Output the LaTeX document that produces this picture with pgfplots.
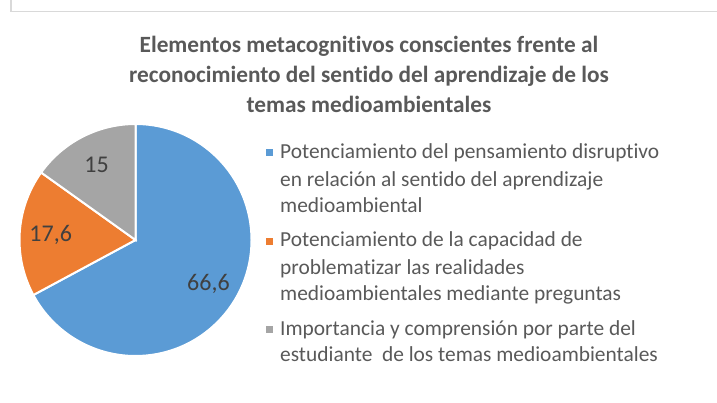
\documentclass[border=0pt]{standalone}
\usepackage{pgfplots}
\pgfplotsset{compat=1.18}
\usepackage{pgfplotstable}
\usepackage{fontspec}
\setmainfont{Carlito}[Ligatures=NoCommon]
\definecolor{sblue}{HTML}{5B9BD5}
\definecolor{sorange}{HTML}{ED7D31}
\definecolor{sgray}{HTML}{A5A5A5}
\definecolor{txt}{HTML}{595959}
\definecolor{lbl}{HTML}{404040}
\definecolor{framec}{HTML}{D9D9D9}
\pgfplotstableread{
value
66.6
17.6
15
}\piedata
\begin{document}
\begin{tikzpicture}
\pgfplotstablegetelem{0}{value}\of\piedata \let\va\pgfplotsretval
\pgfplotstablegetelem{1}{value}\of\piedata \let\vb\pgfplotsretval
\pgfplotstablegetelem{2}{value}\of\piedata \let\vc\pgfplotsretval
\pgfmathsetmacro\tot{\va+\vb+\vc}
\pgfmathsetmacro\aA{90}
\pgfmathsetmacro\aB{90-\va/\tot*360}
\pgfmathsetmacro\aC{\aB-\vb/\tot*360}
\pgfmathsetmacro\aD{\aC-\vc/\tot*360}
\pgfmathsetmacro\mA{(\aA+\aB)/2}
\pgfmathsetmacro\mB{(\aB+\aC)/2}
\pgfmathsetmacro\mC{(\aC+\aD)/2}
\def\R{116}
\def\cx{135.5}
\def\cy{162}
\begin{axis}[x=1pt,y=1pt,xmin=0,xmax=717,ymin=0,ymax=402,
  hide axis,clip=false,at={(0,0)},anchor=south west]
% frame
\draw[framec,line width=1.3pt] (axis cs:11,402) -- (axis cs:11,390.5) -- (axis cs:717,390.5);
% pie slices
\fill[sblue,draw=white,line width=2pt] (axis cs:\cx,\cy) -- ++(\aA:\R pt) arc[start angle=\aA,end angle=\aB,radius=\R pt] -- cycle;
\fill[sorange,draw=white,line width=2pt] (axis cs:\cx,\cy) -- ++(\aB:\R pt) arc[start angle=\aB,end angle=\aC,radius=\R pt] -- cycle;
\fill[sgray,draw=white,line width=2pt] (axis cs:\cx,\cy) -- ++(\aC:\R pt) arc[start angle=\aC,end angle=\aD,radius=\R pt] -- cycle;
% data labels
\begin{scope}[every node/.style={text=lbl,font=\fontsize{24}{28}\selectfont}]
\node[shift={(\mA:85pt)}] at (axis cs:\cx,\cy) {\pgfmathprintnumber[use comma,assume math mode=true]{\va}};
\node[shift={(\mB:85pt)}] at (axis cs:\cx,\cy) {\pgfmathprintnumber[use comma,assume math mode=true]{\vb}};
\node[shift={(\mC:85pt)}] at (axis cs:\cx,\cy) {\pgfmathprintnumber[use comma,assume math mode=true]{\vc}};
\end{scope}
% title
\begin{scope}[every node/.style={text=txt,font=\bfseries\fontsize{23.3}{30}\selectfont,anchor=base}]
\node at (axis cs:369,349) {Elementos metacognitivos conscientes frente al};
\node at (axis cs:369,319) {reconocimiento del sentido del aprendizaje de los};
\node at (axis cs:369,289) {temas medioambientales};
\end{scope}
% legend
\fill[sblue] (axis cs:265.5,245.5) rectangle (axis cs:272.5,252.5);
\fill[sorange] (axis cs:265.5,156.5) rectangle (axis cs:272.5,163.5);
\fill[sgray] (axis cs:265.5,69.5) rectangle (axis cs:272.5,76.5);
\begin{scope}[every node/.style={text=txt,font=\fontsize{21.4}{27}\selectfont,anchor=base west,inner xsep=0pt}]
\node at (axis cs:280,243) {Potenciamiento del pensamiento disruptivo};
\node at (axis cs:280,215.5) {en relación al sentido del aprendizaje};
\node at (axis cs:280,189) {medioambiental};
\node at (axis cs:280,155) {Potenciamiento de la capacidad de};
\node at (axis cs:280,128) {problematizar las realidades};
\node at (axis cs:280,101.5) {medioambientales mediante preguntas};
\node at (axis cs:280,67) {Importancia y comprensión por parte del};
\node at (axis cs:280,40.5) {estudiante\ \ de los temas medioambientales};
\end{scope}
\end{axis}
\pgfresetboundingbox
\useasboundingbox (0,0) rectangle (717pt,402pt);
\end{tikzpicture}
\end{document}
